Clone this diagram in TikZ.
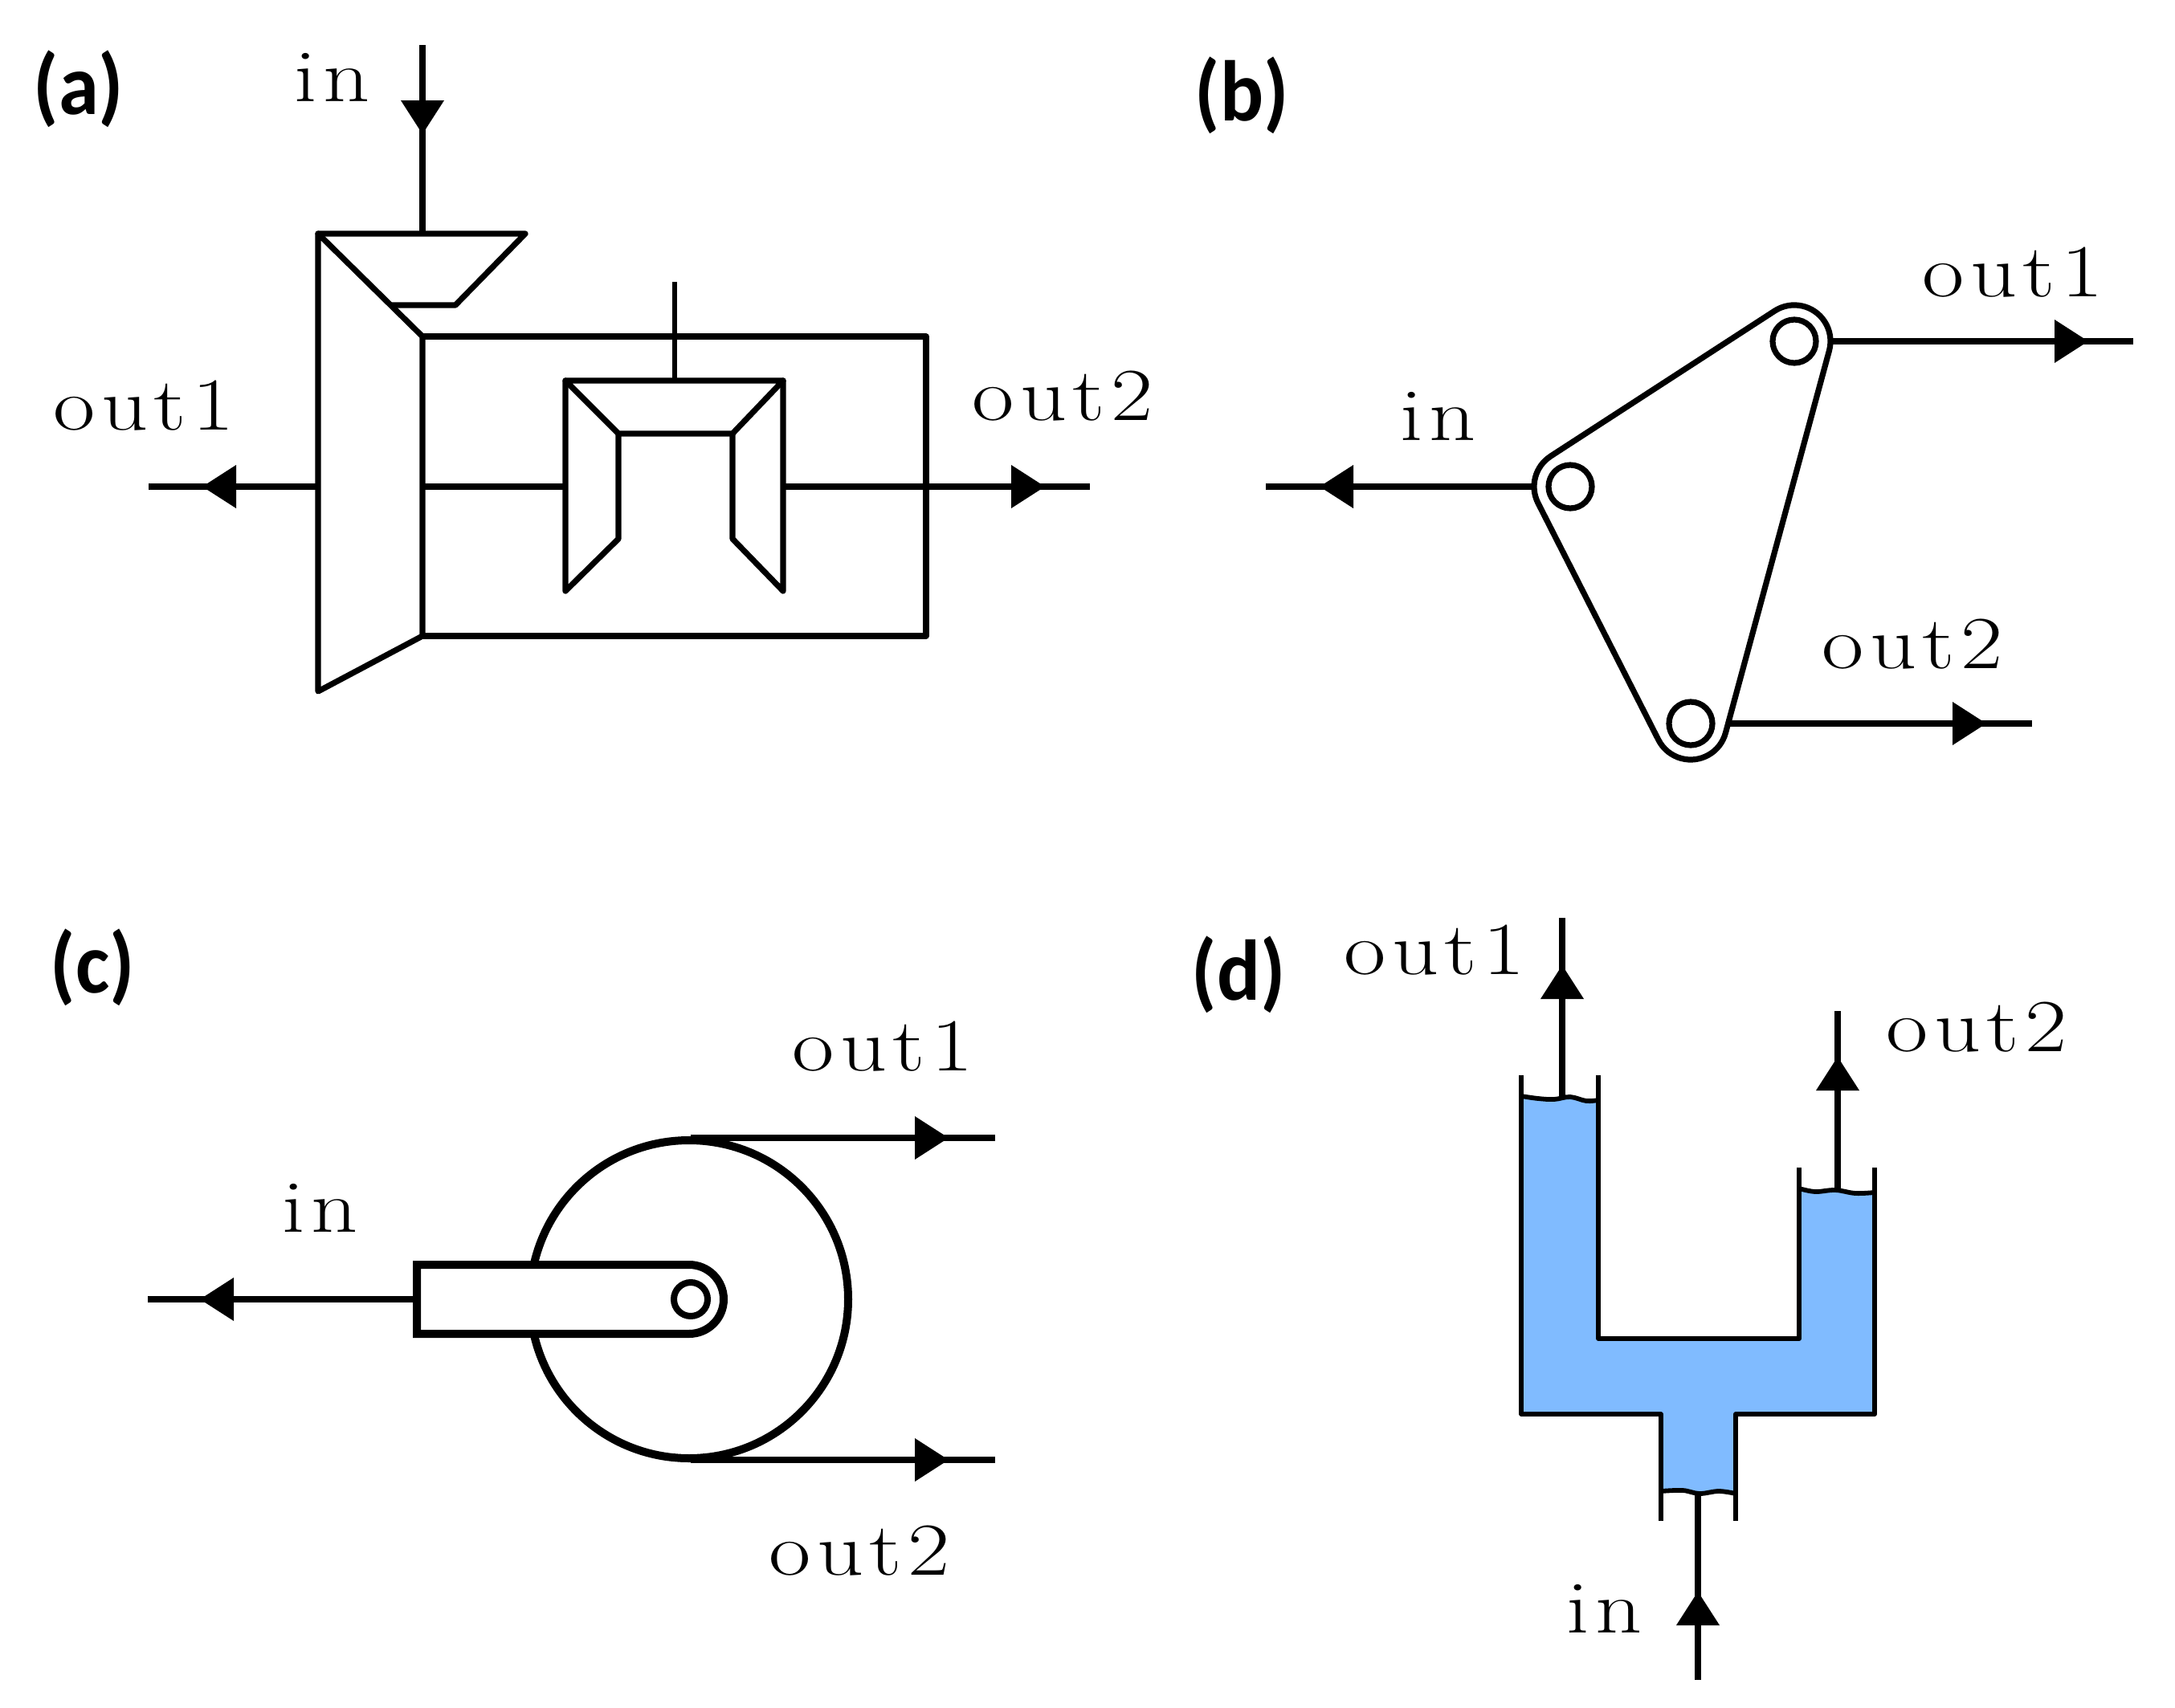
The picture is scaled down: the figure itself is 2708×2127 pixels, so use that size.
\documentclass[tikz,border=0pt]{standalone}
\usepackage{fontspec}
\newfontfamily\lblfont[LetterSpace=8,FakeStretch=1.22]{Latin Modern Roman}
\newfontfamily\tagfont[BoldFont=Carlito Bold,FakeStretch=0.94]{Carlito}
\definecolor{water}{HTML}{80BBFF}
\tikzset{
  x=0.01cm,y=0.01cm,
  lbl/.style={anchor=base west,inner sep=0pt,font=\lblfont\fontsize{26.5pt}{30pt}\selectfont},
  tagl/.style={anchor=base west,inner sep=0pt,font=\tagfont\bfseries\fontsize{30.5pt}{32pt}\selectfont},
  wire/.style={line width=0.072cm,line cap=butt},
  body/.style={line width=0.072cm,line join=round,line cap=round},
  thickbody/.style={line width=0.1cm,line join=miter},
  vessel/.style={line width=0.058cm,line join=round,line cap=butt},
}
\newcommand{\head}[3]{\fill[shift={(#1,#2)},rotate=#3] (0,0) -- (-42,27) -- (-42,-27) -- cycle;}
\begin{document}
\begin{tikzpicture}
\useasboundingbox (0,0) rectangle (2708,-2127);
\fill[white] (0,0) rectangle (2708,-2127);

% ---------- (a)
\node[tagl] (taga) at (41,-143) {(a)};
\node[lbl] (ain) at (366,-126) {in};
\node[lbl] (aout1) at (66,-535) {out1};
\node[lbl] (aout2) at (1210,-523) {out2};
\coordinate (a1) at (526,-56); \coordinate (a2) at (526,-291);
\draw[wire] (a1) -- (a2); \head{526}{-167}{-90}
\draw[body] (396,-291) -- (654,-291) -- (567,-380) -- (488,-380);
\draw[body] (396,-291) -- (526,-419) -- (526,-792) -- (396,-861) -- cycle;
\draw[body] (526,-419) -- (1153,-419) -- (1153,-792) -- (526,-792);
\coordinate (a3) at (840,-351); \coordinate (a4) at (840,-474);
\draw[wire,line width=0.055cm] (a3) -- (a4);
\draw[body] (770,-540) -- (704,-474) -- (975,-474) -- (912,-540) -- cycle;
\draw[body] (704,-474) -- (704,-736) -- (770,-671) -- (770,-540);
\draw[body] (975,-474) -- (975,-736) -- (912,-671) -- (912,-540);
\coordinate (a5) at (185,-606); \coordinate (a6) at (396,-606);
\coordinate (a7) at (526,-606); \coordinate (a8) at (704,-606);
\coordinate (a9) at (975,-606); \coordinate (a10) at (1357,-606);
\draw[wire] (a6) -- (a5); \head{252}{-606}{180}
\draw[wire] (a7) -- (a8);
\draw[wire] (a9) -- (a10); \head{1301}{-606}{0}

% ---------- (b)
\node[tagl] (tagb) at (1487,-150) {(b)};
\node[lbl] (bin) at (1743,-548) {in};
\node[lbl] (bout1) at (2393,-369) {out1};
\node[lbl] (bout2) at (2268,-832) {out2};
\draw[body] (1930.5,-568.2) -- (2209.5,-387.2) arc[start angle=123,end angle=-15.2,radius=45]
  -- (2148.4,-912.8) arc[start angle=-15.2,end angle=-153.05,radius=45]
  -- (1914.9,-626.4) arc[start angle=206.95,end angle=123,radius=45] -- cycle;
\draw[body] (1955,-606) circle[radius=27];
\draw[body] (2234,-425) circle[radius=27];
\draw[body] (2105,-901) circle[radius=27];
\coordinate (b1) at (1908,-606); \coordinate (b2) at (1576,-606);
\coordinate (b3) at (2278,-425); \coordinate (b4) at (2656,-425);
\coordinate (b5) at (2149,-901); \coordinate (b6) at (2530,-901);
\draw[wire] (b1) -- (b2); \head{1643}{-606}{180}
\draw[wire] (b3) -- (b4); \head{2600}{-425}{0}
\draw[wire] (b5) -- (b6); \head{2473}{-901}{0}

% ---------- (c)
\node[tagl] (tagc) at (62,-1236) {(c)};
\node[lbl] (cin) at (351,-1534) {in};
\node[lbl] (cout1) at (986,-1333) {out1};
\node[lbl] (cout2) at (957,-1961) {out2};
\draw[thickbody] (858,-1618) circle[radius=198];
\draw[thickbody,fill=white] (519,-1575) -- (858,-1575) arc[start angle=90,end angle=-90,radius=43] -- (519,-1661) -- cycle;
\draw[line width=0.08cm] (860,-1618) circle[radius=21];
\coordinate (c1) at (519,-1618); \coordinate (c2) at (184,-1618);
\coordinate (c3) at (860,-1417); \coordinate (c4) at (1239,-1417);
\coordinate (c5) at (860,-1818); \coordinate (c6) at (1239,-1818);
\draw[wire] (c1) -- (c2); \head{249}{-1618}{180}
\draw[wire] (c3) -- (c4); \head{1181}{-1417}{0}
\draw[wire] (c5) -- (c6); \head{1181}{-1818}{0}

% ---------- (d)
\node[tagl] (tagd) at (1483,-1245) {(d)};
\node[lbl] (din) at (1950,-2033) {in};
\node[lbl] (dout1) at (1673,-1213) {out1};
\node[lbl] (dout2) at (2348,-1309) {out2};
\fill[water] plot[smooth,tension=0.6] coordinates {(1894,-1365) (1915,-1368) (1935,-1369) (1955,-1366) (1975,-1371) (1990,-1370)}
  -- (1990,-1667) -- (2240,-1667)
  -- plot[smooth,tension=0.6] coordinates {(2240,-1480) (2260,-1484) (2285,-1482) (2310,-1486) (2334,-1485)}
  -- (2334,-1761) -- (2161,-1761)
  -- plot[smooth,tension=0.6] coordinates {(2161,-1860) (2140,-1857) (2116,-1860) (2095,-1856) (2068,-1857)}
  -- (2068,-1761) -- (1894,-1761) -- cycle;
\draw[vessel] (1894,-1339) -- (1894,-1761) -- (2068,-1761) -- (2068,-1894);
\draw[vessel] (2161,-1894) -- (2161,-1761) -- (2334,-1761) -- (2334,-1454);
\draw[vessel] (1990,-1339) -- (1990,-1667) -- (2240,-1667) -- (2240,-1454);
\draw[vessel] plot[smooth,tension=0.6] coordinates {(1894,-1365) (1915,-1368) (1935,-1369) (1955,-1366) (1975,-1371) (1990,-1370)};
\draw[vessel] plot[smooth,tension=0.6] coordinates {(2240,-1480) (2260,-1484) (2285,-1482) (2310,-1486) (2334,-1485)};
\draw[vessel] plot[smooth,tension=0.6] coordinates {(2068,-1857) (2095,-1856) (2116,-1860) (2140,-1857) (2161,-1860)};
\coordinate (d1) at (1945,-1367); \coordinate (d2) at (1945,-1143);
\coordinate (d3) at (2288,-1482); \coordinate (d4) at (2288,-1259);
\coordinate (d5) at (2114,-2092); \coordinate (d6) at (2114,-1858);
\draw[wire] (d1) -- (d2); \head{1945}{-1202}{90}
\draw[wire] (d3) -- (d4); \head{2288}{-1316}{90}
\draw[wire] (d5) -- (d6); \head{2114}{-1982}{90}
\end{tikzpicture}
\end{document}
